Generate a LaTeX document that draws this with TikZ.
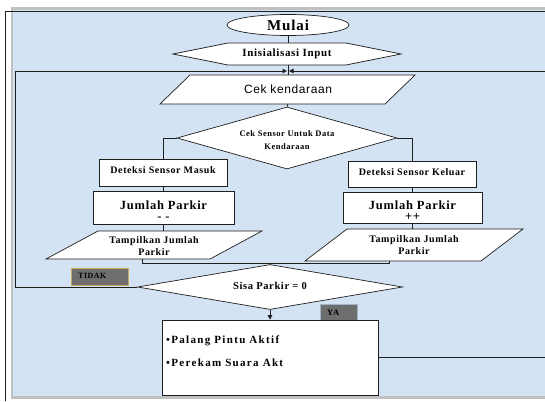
\documentclass[tikz,border=0pt]{standalone}
\usepackage{fontspec}
\setmainfont{Liberation Serif}[LetterSpace=6]
\newfontfamily\arialf{Liberation Sans}[LetterSpace=5]
\usetikzlibrary{shapes.geometric,arrows.meta,calc}
\definecolor{bgblue}{RGB}{212,227,244}
\definecolor{bordgray}{RGB}{192,192,192}
\definecolor{lbl}{RGB}{110,110,110}
\definecolor{lblgold}{RGB}{196,172,96}
\definecolor{lblblue}{RGB}{165,180,196}
\definecolor{ln}{RGB}{30,30,30}
\begin{document}
\begin{tikzpicture}[x=1pt,y=-1pt,
  conn/.style={draw=ln, line width=0.8pt},
  shp/.style={draw=ln, line width=0.7pt, fill=white},
  txt/.style={font=\bfseries, align=center, inner sep=0pt},
  tip/.style={-{Triangle[length=4.5pt,width=4.5pt]}},
  boxn/.style={shp, inner sep=0pt},
  lab/.style={fill=lbl, line width=0.9pt, inner sep=0pt}]
\useasboundingbox (0,0) rectangle (545,401);
% background
\fill[white] (0,0) rectangle (545,401);
\fill[bordgray] (11,7) rectangle (545,399);
\fill[bgblue] (13,10.5) rectangle (545,396);
\draw[ln, line width=1pt] (545,12) -- (5,12) -- (5,401);

% Mulai
\node[shp, ellipse, minimum width=122pt, minimum height=21pt, inner sep=0pt,
  font=\bfseries\fontsize{15}{17}\selectfont] (mulai) at (288,25) {Mulai};

% Inisialisasi Input (hexagon)
\draw[shp] (173,54) -- (228,43) -- (346,43) -- (401,54) -- (346,65) -- (228,65) -- cycle;
\node[txt, font=\bfseries\fontsize{11}{13}\selectfont] (init) at (287,54) {Inisialisasi Input};
\coordinate (initT) at (288,43);
\coordinate (initB) at (288,65);

% Cek kendaraan (parallelogram)
\draw[shp] (160,104) -- (190,75) -- (415,75) -- (385,104) -- cycle;
\node[inner sep=0pt, font=\arialf\fontsize{12}{14}\selectfont] (cek) at (288,89.5) {Cek kendaraan};
\coordinate (cekT) at (288,75);
\coordinate (cekB) at (288,104);

% decision 1
\node[shp, diamond, minimum width=220pt, minimum height=62pt, inner sep=0pt] (d1) at (287,138) {};
\node[txt, font=\bfseries\fontsize{8.5}{13}\selectfont] (d1t) at (287,140) {Cek Sensor Untuk Data\\Kendaraan};

% left column
\node[boxn, minimum width=128pt, minimum height=27pt] (dm) at (163,172.5) {};
\node[txt, font=\bfseries\fontsize{10}{12}\selectfont] (dmt) at (163,170) {Deteksi Sensor Masuk};
\node[boxn, minimum width=141pt, minimum height=33pt] (jm) at (163.5,207.5) {};
\node[txt, font=\bfseries\fontsize{12.5}{11}\selectfont] (jmt) at (163.5,211) {Jumlah Parkir\\- -};
\draw[shp] (46,259) -- (98,231) -- (262,231) -- (210,259) -- cycle;
\node[txt, font=\bfseries\fontsize{10}{12}\selectfont] (tmt) at (154,246) {Tampilkan Jumlah\\Parkir};
\coordinate (tmT) at (163,231);
\coordinate (tmB) at (142,259);

% right column
\node[boxn, minimum width=128pt, minimum height=26pt] (dk) at (412,174) {};
\node[txt, font=\bfseries\fontsize{10}{12}\selectfont] (dkt) at (412,172) {Deteksi Sensor Keluar};
\node[boxn, minimum width=139pt, minimum height=31pt] (jk) at (412.5,207.5) {};
\node[txt, font=\bfseries\fontsize{12.5}{11}\selectfont] (jkt) at (412.5,211) {Jumlah Parkir\\++};
\draw[shp] (305,261) -- (347,229) -- (523,229) -- (481,261) -- cycle;
\node[txt, font=\bfseries\fontsize{10}{12}\selectfont] (tkt) at (414,245.5) {Tampilkan Jumlah\\Parkir};
\coordinate (tkT) at (412,229);
\coordinate (tkB) at (389,261);

% decision 2
\node[shp, diamond, minimum width=265pt, minimum height=45pt, inner sep=0pt] (sisa) at (270,287) {};
\node[txt, font=\bfseries\fontsize{10.5}{12}\selectfont] (sisat) at (270,285.5) {Sisa Parkir = 0};

% labels
\node[lab, draw=lblgold, minimum width=57pt, minimum height=17pt] (tidak) at (99.5,276.5) {};
\node[inner sep=0pt, anchor=west, font=\bfseries\fontsize{8}{10}\selectfont] (tidakt) at (78,275.5) {TIDAK};
\node[lab, draw=lblblue, minimum width=37pt, minimum height=16pt] (ya) at (338.5,312) {};
\node[inner sep=0pt, anchor=west, font=\bfseries\fontsize{8.5}{10}\selectfont] (yat) at (327,312.5) {YA};

% final box
\node[boxn, minimum width=216pt, minimum height=75pt] (fin) at (270,357.5) {};
\node[inner sep=0pt, anchor=west, font=\bfseries\fontsize{11}{13}\selectfont\addfontfeatures{LetterSpace=12}] (f1) at (166,341) {\textbullet Palang Pintu Aktif};
\node[inner sep=0pt, anchor=west, font=\bfseries\fontsize{11}{13}\selectfont\addfontfeatures{LetterSpace=12}] (f2) at (166,363) {\textbullet Perekam Suara Akt};

% coordinates for the loop
\coordinate (loopL) at (15,71);
\coordinate (jL) at (287,71);
\coordinate (jR) at (289,71);
\coordinate (edgeR) at (545,71);
\coordinate (edgeB) at (545,357.5);
\coordinate (jn) at (270,263.5);

% connectors
\draw[conn] (mulai.south) -- (initT);
\draw[conn] (initB) -- (cekT);
\draw[conn] (cekB) -- (d1.north);
\draw[conn] (d1.west) -| (dm.north);
\draw[conn] (d1.east) -| (dk.north);
\draw[conn] (dm.south) -- (dm.south |- jm.north);
\draw[conn] (jm.south -| dm.south) -- (tmT);
\draw[conn] (dk.south) -- (dk.south |- jk.north);
\draw[conn] (jk.south -| dk.south) -- (tkT);
\draw[conn] (tmB) |- (jn);
\draw[conn] (tkB) |- (jn);
\draw[conn] (jn) -- (sisa.north);
\draw[conn, tip] (sisa.south) -- (fin.north);
\draw[conn, tip] (sisa.west) -| (loopL) -- (jL);
\draw[conn] (fin.east) -- (edgeB);
\draw[conn, tip] (edgeR) -- (jR);
\end{tikzpicture}
\end{document}
